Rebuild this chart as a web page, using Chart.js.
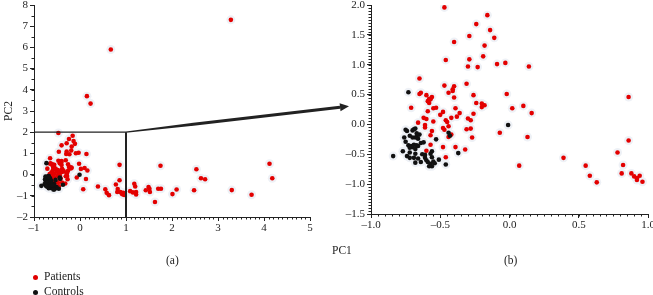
<!DOCTYPE html>
<html>
<head>
<meta charset="utf-8">
<script src="https://cdn.jsdelivr.net/npm/chart.js@4/dist/chart.umd.min.js"></script>
<style>
  body { margin: 0; background: #fff; width: 653px; height: 295px; position: relative; overflow: hidden;
         font-family: "Liberation Serif", "DejaVu Serif", serif; color: #222; }
  #wrapA { position: absolute; left: 0; top: 0; width: 360px; height: 240px; }
  #wrapB { position: absolute; left: 335px; top: 0; width: 318px; height: 240px; }
  .txt { position: absolute; font-size: 11.5px; line-height: 1; white-space: nowrap; }
  .dot { position: absolute; width: 5px; height: 5px; border-radius: 50%; }
</style>
</head>
<body>
<div id="wrapA"><canvas id="chartA" width="360" height="240"></canvas></div>
<div id="wrapB"><canvas id="chartB" width="318" height="240"></canvas></div>
<div class="txt" style="left:332px;top:245px;">PC1</div>
<div class="txt" style="left:166px;top:255px;">(a)</div>
<div class="txt" style="left:504px;top:255px;">(b)</div>
<div class="dot" style="left:33px;top:275px;background:#e00000"></div>
<div class="txt" style="left:44px;top:271px;">Patients</div>
<div class="dot" style="left:33px;top:290px;background:#111"></div>
<div class="txt" style="left:44px;top:286px;">Controls</div>
<script>
// PCA scores (PC1, PC2)
const patients = [
  [-0.47, 1.96], [-0.16, 1.83], [-0.24, 1.68], [-0.14, 1.58], [-0.29, 1.48], [-0.11, 1.45],
  [-0.40, 1.38], [-0.18, 1.32], [-0.46, 1.08], [-0.29, 1.09], [-0.19, 1.14], [-0.09, 1.01],
  [-0.03, 1.03], [-0.30, 0.97], [-0.23, 0.96], [0.14, 0.97], [-0.65, 0.77], [-0.65, 0.51],
  [-0.64, 0.53], [-0.60, 0.49], [-0.47, 0.65], [-0.40, 0.64], [-0.44, 0.53], [-0.41, 0.56],
  [-0.41, 0.59], [-0.31, 0.68], [-0.40, 0.45], [-0.56, 0.46], [-0.57, 0.42], [-0.59, 0.39],
  [-0.58, 0.36], [-0.58, 0.43], [-0.26, 0.49], [-0.02, 0.51], [-0.71, 0.28], [-0.55, 0.27],
  [-0.53, 0.28], [-0.59, 0.22], [-0.39, 0.27], [-0.24, 0.36], [-0.20, 0.35], [-0.18, 0.32],
  [-0.20, 0.29], [-0.48, 0.21], [-0.36, 0.19], [-0.26, 0.18], [0.02, 0.27], [0.10, 0.31],
  [0.16, 0.19], [-0.50, 0.16], [-0.66, 0.03], [-0.62, 0.11], [-0.60, 0.09], [-0.61, -0.01],
  [-0.61, -0.05], [-0.55, 0.05], [-0.46, 0.07], [-0.45, 0.04], [-0.42, 0.11], [-0.38, 0.13],
  [-0.30, 0.10], [-0.28, 0.07], [-0.44, -0.03], [-0.48, -0.06], [-0.47, -0.09], [-0.31, -0.08],
  [-0.28, -0.07], [-0.56, -0.11], [-0.57, -0.18], [-0.42, -0.17], [-0.44, -0.21], [-0.27, -0.22],
  [-0.07, -0.14], [0.13, -0.21], [-0.57, -0.34], [-0.48, -0.38], [-0.39, -0.38], [-0.32, -0.42],
  [-0.60, -0.44], [-0.46, -0.55], [0.07, -0.69], [0.39, -0.56], [0.55, -0.69], [0.58, -0.86],
  [0.63, -0.97], [0.86, 0.46], [0.86, -0.27], [0.78, -0.47], [0.82, -0.68], [0.81, -0.82],
  [0.88, -0.82], [0.90, -0.87], [0.92, -0.90], [0.92, -0.93], [0.94, -0.86], [0.96, -0.96],
  [0.67, 5.9], [0.15, 3.7], [0.23, 3.35], [3.28, 7.3],
  [1.09, -0.78], [1.15, -0.84], [1.18, -0.43], [1.20, -0.56], [1.22, -0.82], [1.22, -0.94],
  [1.43, -0.74], [1.49, -0.59], [1.51, -0.67], [1.52, -0.82], [1.63, -1.29], [1.70, -0.67],
  [1.76, -0.67], [1.75, 0.42], [2.01, -0.92], [2.10, -0.70], [2.48, -0.74], [2.53, 0.25],
  [2.63, -0.17], [2.72, -0.22], [3.30, -0.73], [3.73, -0.95], [4.12, 0.51], [4.18, -0.17]
];
const controls = [
  [-0.73, 0.54], [-0.01, -0.01], [-0.44, -0.14], [-0.43, -0.19], [-0.37, -0.48], [-0.46, -0.67],
  [-0.51, -0.59], [-0.75, -0.09], [-0.74, -0.11], [-0.70, -0.10], [-0.69, -0.08], [-0.68, -0.07],
  [-0.76, -0.22], [-0.75, -0.29], [-0.72, -0.19], [-0.70, -0.22], [-0.68, -0.22], [-0.67, -0.21],
  [-0.66, -0.24], [-0.73, -0.35], [-0.71, -0.36], [-0.70, -0.38], [-0.68, -0.41], [-0.69, -0.34],
  [-0.67, -0.35], [-0.66, -0.36], [-0.72, -0.39], [-0.72, -0.47], [-0.68, -0.49], [-0.69, -0.56],
  [-0.66, -0.57], [-0.77, -0.45], [-0.74, -0.53], [-0.72, -0.56], [-0.84, -0.53], [-0.68, -0.64],
  [-0.64, -0.63], [-0.61, -0.56], [-0.60, -0.60], [-0.59, -0.63], [-0.57, -0.66], [-0.56, -0.70],
  [-0.55, -0.62], [-0.54, -0.65], [-0.56, -0.55], [-0.58, -0.70], [-0.53, -0.25], [-0.56, -0.45],
  [-0.57, -0.49], [-0.65, -0.17], [-0.67, -0.15], [-0.64, -0.31], [-0.62, -0.30], [-0.63, -0.50],
  [-0.61, -0.51]
];

// axis ticks
const leftXTicks = [-1, 0, 1, 2, 3, 4, 5];
const leftYTicks = [-2, -1, 0, 1, 2, 3, 4, 5, 6, 7, 8];
const rightXTicks = [-1, -0.5, 0, 0.5, 1];
const rightYTicks = [-1.5, -1, -0.5, 0, 0.5, 1, 1.5, 2];

// zoomed window shown in (b)
const zoomX = [-1, 1];
const zoomY = [-2, 2];

const RED = '#e30000';
const BLACK = '#111111';
const INK = '#222222';
const SERIF = '"Liberation Serif", serif';

const toPts = arr => arr.map(p => ({ x: p[0], y: p[1] }));
const inWindow = p => p[0] >= rightXTicks[0] && p[0] <= rightXTicks[rightXTicks.length - 1] &&
  p[1] >= rightYTicks[0] && p[1] <= rightYTicks[rightYTicks.length - 1];

const dash = s => String(s).replace('-', '\u2013');

// small minor ticks drawn with the chart's own scales
const minorTicks = {
  id: 'minorTicks',
  afterDraw(chart, args, opts) {
    const ctx = chart.ctx;
    ctx.save();
    ctx.strokeStyle = INK;
    ctx.lineWidth = 1;
    const xs = chart.scales.x, ys = chart.scales.y;
    ctx.beginPath();
    for (let v = xs.min; v <= xs.max + 1e-9; v += opts.x) {
      const px = Math.round(xs.getPixelForValue(v)) + 0.5;
      ctx.moveTo(px, ys.bottom);
      ctx.lineTo(px, ys.bottom + 2.5);
    }
    for (let v = ys.min; v <= ys.max + 1e-9; v += opts.y) {
      const py = Math.round(ys.getPixelForValue(v)) + 0.5;
      ctx.moveTo(xs.left, py);
      ctx.lineTo(xs.left - 2.5, py);
    }
    ctx.stroke();
    // y tick labels, placed by the y scale
    if (opts.yLabels) {
      ctx.fillStyle = INK;
      ctx.font = '11px ' + SERIF;
      ctx.textAlign = 'right';
      ctx.textBaseline = 'middle';
      ys.ticks.forEach(t => {
        ctx.fillText(dash(t.value), xs.left - 6, ys.getPixelForValue(t.value));
      });
    }
    ctx.restore();
  }
};

// zoom rectangle and arrow pointing at (b)
const zoomBox = {
  id: 'zoomBox',
  afterDatasetsDraw(chart) {
    const ctx = chart.ctx;
    const xs = chart.scales.x, ys = chart.scales.y;
    const bx = xs.getPixelForValue(zoomX[1]);
    const by = ys.getPixelForValue(zoomY[1]);
    ctx.save();
    ctx.strokeStyle = INK;
    ctx.lineWidth = 1.2;
    ctx.beginPath();
    ctx.moveTo(xs.left, by);
    ctx.lineTo(bx, by);
    ctx.stroke();
    ctx.lineWidth = 2;
    ctx.beginPath();
    ctx.moveTo(bx, by);
    ctx.lineTo(bx, ys.getPixelForValue(zoomY[0]));
    ctx.stroke();

    // tapered arrow
    const sx = bx, sy = by;
    const tx = bx + 223, ty = by - 26;
    const len = Math.hypot(tx - sx, ty - sy);
    const dx = (tx - sx) / len, dy = (ty - sy) / len;
    const nx = -dy, ny = dx;
    const hx = tx - dx * 9, hy = ty - dy * 9;
    const mx = sx + dx * 70, my = sy + dy * 70;
    ctx.fillStyle = INK;
    ctx.beginPath();
    ctx.moveTo(sx + nx * 0.6, sy + ny * 0.6);
    ctx.lineTo(mx + nx * 1.5, my + ny * 1.5);
    ctx.lineTo(hx + nx * 1.6, hy + ny * 1.6);
    ctx.lineTo(hx - nx * 1.6, hy - ny * 1.6);
    ctx.lineTo(mx - nx * 1.5, my - ny * 1.5);
    ctx.lineTo(sx - nx * 0.6, sy - ny * 0.6);
    ctx.closePath();
    ctx.fill();
    ctx.beginPath();
    ctx.moveTo(tx, ty);
    ctx.lineTo(hx + nx * 4, hy + ny * 4);
    ctx.lineTo(hx - nx * 4, hy - ny * 4);
    ctx.closePath();
    ctx.fill();
    ctx.restore();
  }
};

const tickFont = { family: SERIF, size: 11 };

function datasets(p, c) {
  return [
    { data: toPts(c), backgroundColor: BLACK, borderWidth: 0, pointRadius: 2.3 },
    { data: toPts(p), backgroundColor: RED, borderWidth: 0, pointRadius: 2.3 },
    { data: toPts(c.concat(p)), backgroundColor: '#eef1f6', borderWidth: 0, pointRadius: 4.5 }
  ];
}

function axis(ticks, fmt, size, isX, extra, showLabels) {
  return Object.assign({
    type: 'linear',
    min: ticks[0],
    max: ticks[ticks.length - 1],
    afterBuildTicks: s => { s.ticks = ticks.map(v => ({ value: v })); },
    afterFit: s => {
      if (isX) s.height = size; else s.width = size;
      s.paddingLeft = s.paddingRight = s.paddingTop = s.paddingBottom = 0;
    },
    ticks: { display: showLabels !== false, font: tickFont, color: INK, padding: isX ? 1 : 2,
             maxRotation: 0, autoSkip: false, callback: fmt },
    grid: { drawOnChartArea: false, drawTicks: true, tickLength: 4, color: INK, tickColor: INK },
    border: { display: true, color: INK, width: 1 }
  }, extra || {});
}

const common = {
  responsive: false,
  animation: false,
  devicePixelRatio: 1,
  plugins: { legend: { display: false }, tooltip: { enabled: false } },
  events: []
};

new Chart(document.getElementById('chartA'), {
  type: 'scatter',
  data: { datasets: datasets(patients, controls) },
  options: Object.assign({}, common, {
    layout: { autoPadding: false, padding: { left: 0, right: 50, top: 5, bottom: 0 } },
    plugins: Object.assign({}, common.plugins, { minorTicks: { x: 0.1, y: 0.5, yLabels: true } }),
    scales: {
      x: axis(leftXTicks, v => dash(v), 23, true),
      y: axis(leftYTicks, v => dash(v), 34, false, {
        title: { display: true, text: 'PC2', color: INK, padding: { top: 2, bottom: 0 },
                 font: { family: SERIF, size: 11.5 } }
      }, false)
    }
  }),
  plugins: [minorTicks, zoomBox]
});

new Chart(document.getElementById('chartB'), {
  type: 'scatter',
  data: { datasets: datasets(patients.filter(inWindow), controls.filter(inWindow)) },
  options: Object.assign({}, common, {
    layout: { autoPadding: false, padding: { left: 0, right: 5, top: 5, bottom: 0 } },
    plugins: Object.assign({}, common.plugins, { minorTicks: { x: 0.05, y: 0.05 } }),
    scales: {
      x: axis(rightXTicks, v => dash(Number(v).toFixed(1)), 26, true),
      y: axis(rightYTicks, v => dash(Number(v).toFixed(1)), 36, false)
    }
  }),
  plugins: [minorTicks]
});
</script>
</body>
</html>
